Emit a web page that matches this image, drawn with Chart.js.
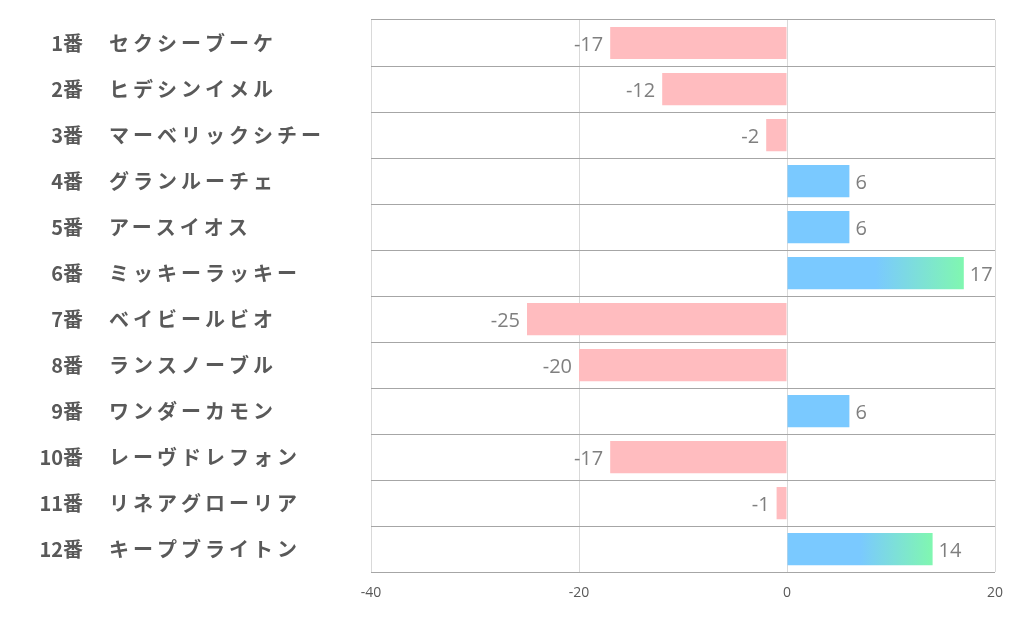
<!DOCTYPE html>
<html>
<head>
<meta charset="utf-8">
<script src="https://cdn.jsdelivr.net/npm/chart.js@4"></script>
<style>
  html, body { margin: 0; padding: 0; background: #fff; }
  #wrap { width: 1022px; height: 626px; }
</style>
</head>
<body>
<div id="wrap"><canvas id="chart"></canvas></div>
<script>
const horseNumbers = ["1番", "2番", "3番", "4番", "5番", "6番", "7番", "8番", "9番", "10番", "11番", "12番"];
const horseNames = ["セクシーブーケ", "ヒデシンイメル", "マーベリックシチー", "グランルーチェ", "アースイオス", "ミッキーラッキー",
  "ベイビールビオ", "ランスノーブル", "ワンダーカモン", "レーヴドレフォン", "リネアグローリア", "キープブライトン"];
const scores = [-17, -12, -2, 6, 6, 17, -25, -20, 6, -17, -1, 14];
const xTicks = [-40, -20, 0, 20];

const pink = "#ffbcbf";
const blue = "#7ac9ff";
const green = "#80f7b0";

// Bars over 10 fade from blue into green on their outer half
const barColor = (context) => {
  const v = context.raw;
  if (v < 0) return pink;
  if (v <= 10) return blue;
  const { chart } = context;
  const x = chart.scales.x;
  const x0 = x.getPixelForValue(0);
  const x1 = x.getPixelForValue(v);
  const g = chart.ctx.createLinearGradient(x0, 0, x1, 0);
  g.addColorStop(0, blue);
  g.addColorStop(0.5, blue);
  g.addColorStop(1, green);
  return g;
};

// Left hand labels: number right aligned, name left aligned
const rowLabels = {
  id: "rowLabels",
  afterDraw(chart) {
    const { ctx } = chart;
    const y = chart.scales.y;
    ctx.save();
    ctx.fillStyle = "#595959";
    ctx.font = "bold 20px 'Noto Sans CJK JP'";
    ctx.textBaseline = "middle";
    horseNumbers.forEach((num, i) => {
      const py = y.getPixelForValue(i);
      ctx.letterSpacing = "0px";
      ctx.textAlign = "right";
      ctx.fillText(num, 83, py);
      ctx.letterSpacing = "4px";
      ctx.textAlign = "left";
      ctx.fillText(horseNames[i], 109, py);
    });
    ctx.restore();
  },
};

// Value labels just outside the bar ends
const valueLabels = {
  id: "valueLabels",
  afterDatasetsDraw(chart) {
    const { ctx } = chart;
    const meta = chart.getDatasetMeta(0);
    ctx.save();
    ctx.fillStyle = "#7f7f7f";
    ctx.font = "20px 'Open Sans'";
    ctx.textBaseline = "middle";
    meta.data.forEach((bar, i) => {
      const v = scores[i];
      if (v < 0) {
        ctx.textAlign = "right";
        ctx.fillText(String(v), bar.x - 7, bar.y + 2);
      } else {
        ctx.textAlign = "left";
        ctx.fillText(String(v), bar.x + 6, bar.y + 2);
      }
    });
    ctx.restore();
  },
};

new Chart(document.getElementById("chart"), {
  type: "bar",
  plugins: [rowLabels, valueLabels],
  data: {
    labels: horseNames,
    datasets: [
      {
        data: scores,
        backgroundColor: barColor,
        barPercentage: 0.7,
        categoryPercentage: 1,
      },
    ],
  },
  options: {
    indexAxis: "y",
    responsive: true,
    maintainAspectRatio: false,
    animation: false,
    layout: { padding: { left: 371, right: 27, top: 20, bottom: 13 } },
    plugins: {
      legend: { display: false },
      tooltip: { enabled: false },
    },
    scales: {
      x: {
        min: -40,
        max: 20,
        afterBuildTicks: (scale) => {
          scale.ticks = xTicks.map((v) => ({ value: v }));
        },
        grid: { color: "#d9d9d9", drawTicks: false },
        border: { display: false },
        ticks: {
          color: "#595959",
          font: { family: "'Open Sans'", size: 14 },
          padding: 12,
        },
      },
      y: {
        grid: { color: "#a6a6a6", offset: true, drawTicks: false },
        border: { display: false },
        ticks: { display: false },
      },
    },
  },
});
</script>
</body>
</html>
